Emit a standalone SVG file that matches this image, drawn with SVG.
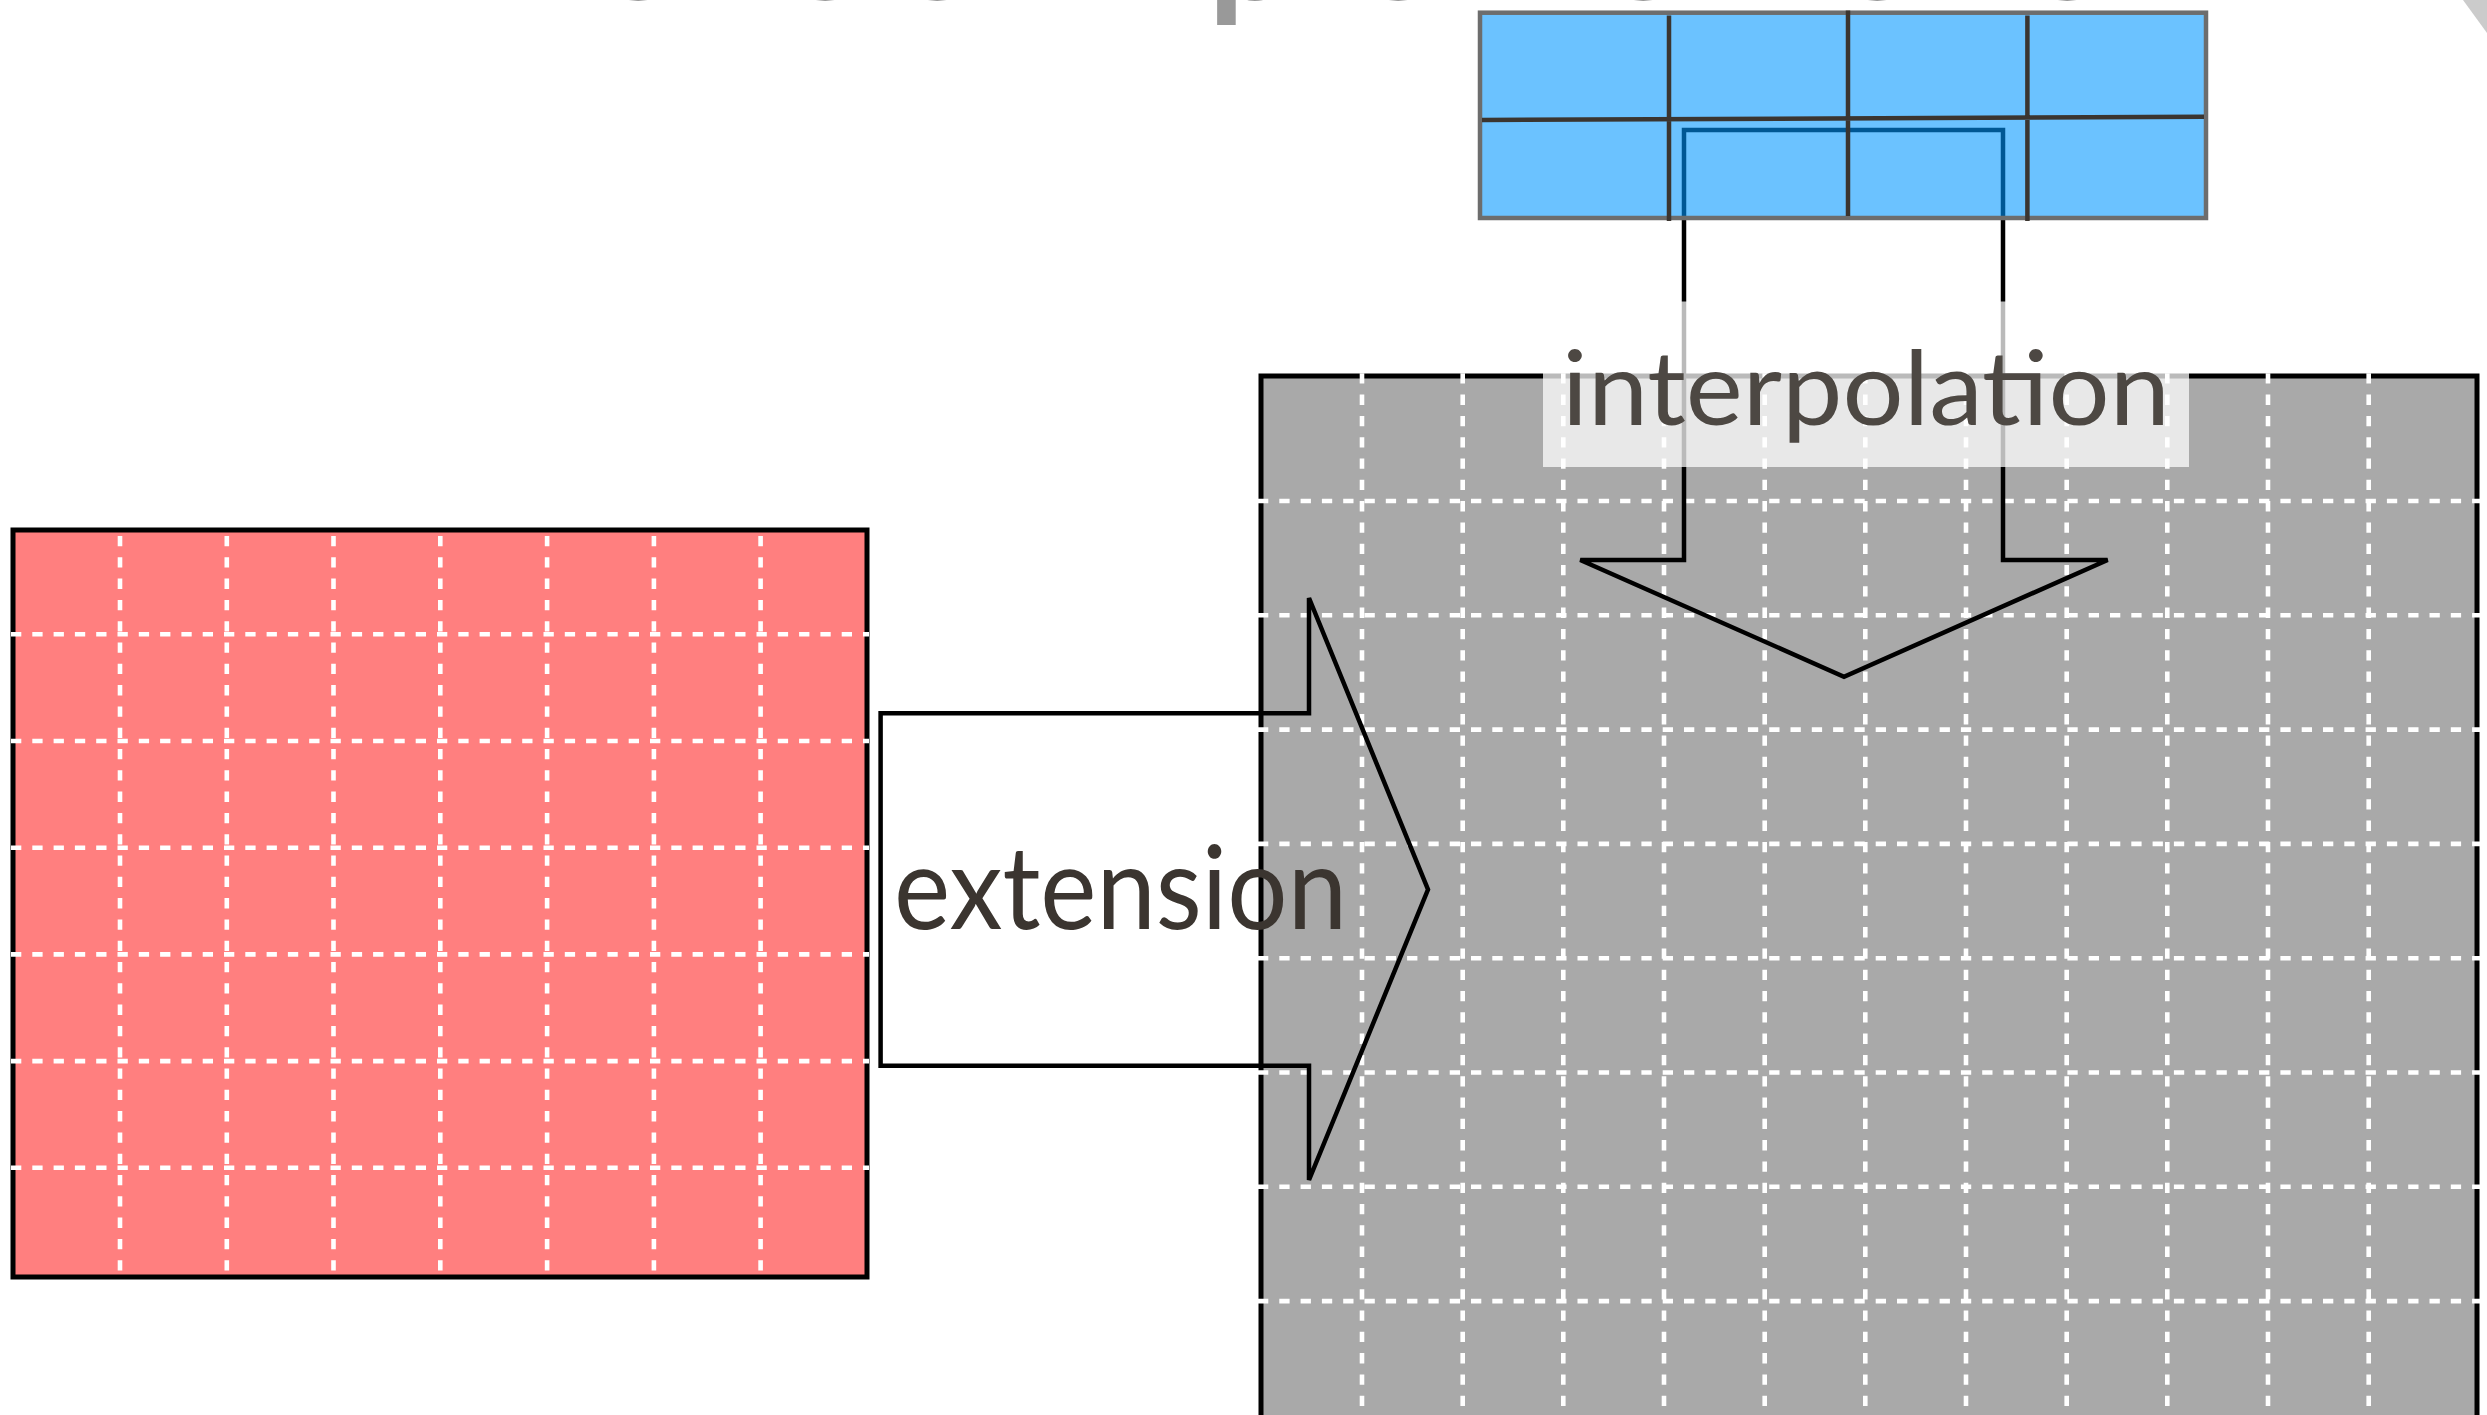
<svg xmlns="http://www.w3.org/2000/svg" width="2487" height="1415" viewBox="0 0 2487 1415">
  <style>
    .frame { fill: none; stroke: #000; stroke-width: 5; }
    .grid { fill: none; stroke: #fff; stroke-width: 4.6; stroke-dasharray: 10.3 11; }
    .arrow { fill: none; stroke: #000; stroke-width: 4.5; stroke-linejoin: miter; }
    .cell { stroke: #3b3530; stroke-width: 4.5; }
    .label { font-family: Lato, "Open Sans", "Liberation Sans", sans-serif; }
  </style>

  <rect width="2487" height="1415" fill="#fff"/>

  <!-- heading, cut off at the top edge -->
  <g id="heading">
    <text font-family="Lato, 'Liberation Sans', sans-serif" font-weight="bold" font-size="150" fill="#999" y="0"><tspan x="595">o</tspan><tspan x="782">o</tspan><tspan x="894">o</tspan><tspan x="1208">p</tspan><tspan x="1355">o</tspan><tspan x="1600">o</tspan><tspan x="1834">o</tspan><tspan x="2024">o</tspan></text>
    <polygon points="2463,0 2487,0 2487,33" fill="#cbcbcb"/>
  </g>

  <!-- fine target grid (gray) -->
  <g id="node-fine-grid">
    <rect x="1261" y="376" width="1216" height="1064" fill="#a9a9a9"/>
    <rect class="frame" x="1261" y="376" width="1216" height="1064"/>
    <g class="grid">
      <path d="M1362 373.3V1415M1462.7 373.3V1415M1563.3 373.3V1415M1664 373.3V1415M1764.7 373.3V1415M1865.3 373.3V1415M1966 373.3V1415M2066.7 373.3V1415M2167.3 373.3V1415M2268 373.3V1415M2368.7 373.3V1415"/>
      <path d="M1258 501H2480M1258 615.3H2480M1258 729.6H2480M1258 843.9H2480M1258 958.2H2480M1258 1072.5H2480M1258 1186.8H2480M1258 1301.1H2480"/>
    </g>
  </g>

  <!-- source grid (red) -->
  <g id="node-source-grid">
    <rect x="13" y="530" width="854" height="747" fill="#ff7f7f"/>
    <rect class="frame" x="13" y="530" width="854" height="747"/>
    <g class="grid">
      <path d="M120 536V1274M226.8 536V1274M333.5 536V1274M440.3 536V1274M547.1 536V1274M653.9 536V1274M760.6 536V1274"/>
      <path d="M11 634.3H869M11 741H869M11 847.7H869M11 954.4H869M11 1061.1H869M11 1167.8H869"/>
    </g>
  </g>

  <!-- block arrows and their captions -->
  <g id="connectors">
    <path id="edge-extension" class="arrow" d="M880.6 713.3H1309V598L1428 889.5L1309 1180V1065.7H880.6Z"/>
    <path id="edge-interpolation" class="arrow" d="M1684 130H2003V560H2107.6L1844 676.7L1580.3 560H1684Z"/>
    <rect x="1543" y="301.5" width="646" height="165.5" fill="#fff" fill-opacity="0.73"/>
    <text class="label" x="1562" y="425" font-size="102" fill="#4d4843" textLength="608" lengthAdjust="spacingAndGlyphs">interpolation</text>
    <text class="label" x="894" y="929" font-size="117" fill="#3b3530" textLength="453" lengthAdjust="spacingAndGlyphs">extension</text>
  </g>

  <!-- coarse input grid (blue, translucent) -->
  <g id="node-coarse-grid">
    <rect x="1480" y="12.7" width="726" height="205.3" fill="rgb(0,150,255)" fill-opacity="0.58"/>
    <rect x="1480" y="12.7" width="726" height="205.3" fill="none" stroke="#6d6d6d" stroke-width="4.5"/>
    <path class="cell" d="M1482 120L2204 116.8M1669 15.5V221M1848 10.5V216M2027.4 15.5V221"/>
  </g>
</svg>
